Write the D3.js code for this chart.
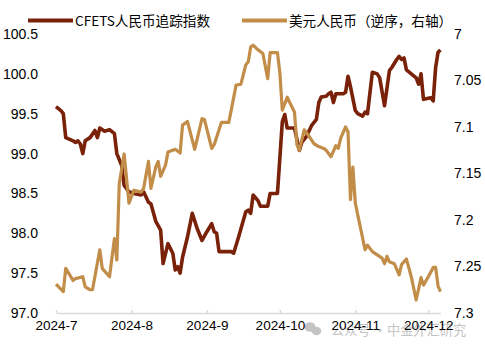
<!DOCTYPE html>
<html><head><meta charset="utf-8">
<script src="https://cdn.jsdelivr.net/npm/d3@7"></script>
<style>
html,body{margin:0;padding:0;background:#fff;}
svg{display:block;}
</style></head>
<body>
<svg id="c" width="485" height="349"></svg>
<script>
const cfetsDates = ["2024-07-01","2024-07-03","2024-07-04","2024-07-05","2024-07-08","2024-07-09","2024-07-10","2024-07-11","2024-07-12","2024-07-13","2024-07-15","2024-07-17","2024-07-18","2024-07-19","2024-07-21","2024-07-23","2024-07-25","2024-07-26","2024-07-28","2024-07-29","2024-07-31",
"2024-08-02","2024-08-05","2024-08-06","2024-08-08","2024-08-09","2024-08-11","2024-08-13","2024-08-14","2024-08-16","2024-08-18","2024-08-19","2024-08-20","2024-08-21","2024-08-22","2024-08-24","2024-08-26","2024-08-28","2024-08-30",
"2024-09-01","2024-09-03","2024-09-04","2024-09-05","2024-09-06","2024-09-11","2024-09-12","2024-09-14","2024-09-17","2024-09-18","2024-09-19","2024-09-20","2024-09-22","2024-09-23","2024-09-26","2024-09-27","2024-09-30",
"2024-10-02","2024-10-03","2024-10-04","2024-10-07","2024-10-09","2024-10-10","2024-10-12","2024-10-14","2024-10-16","2024-10-17","2024-10-18","2024-10-20","2024-10-21","2024-10-22","2024-10-23","2024-10-24","2024-10-27","2024-10-28","2024-10-29","2024-10-30",
"2024-11-01","2024-11-02","2024-11-04","2024-11-05","2024-11-06","2024-11-08","2024-11-10","2024-11-11","2024-11-13","2024-11-15","2024-11-16","2024-11-18","2024-11-19","2024-11-20","2024-11-21","2024-11-22","2024-11-24","2024-11-26","2024-11-27","2024-11-28","2024-11-29",
"2024-12-02","2024-12-03","2024-12-04","2024-12-05","2024-12-06"];
const cfetsValues = [99.59,99.54,99.50,99.20,99.16,99.14,99.16,99.12,99.00,99.16,99.20,99.29,99.20,99.32,99.28,99.30,99.25,99.00,98.85,98.60,98.52,
98.50,98.48,98.52,98.39,98.37,98.15,98.04,97.62,97.87,97.75,97.54,97.58,97.50,97.70,97.95,98.25,98.06,97.91,
98.02,98.12,98.02,98.00,97.77,97.77,97.75,97.95,98.27,98.29,98.25,98.48,98.41,98.34,98.34,98.50,98.50,
99.40,99.49,99.32,99.32,99.04,99.14,99.22,99.35,99.43,99.64,99.71,99.72,99.75,99.77,99.64,99.75,99.75,99.77,99.97,99.84,
99.54,99.50,99.47,99.52,99.50,100.02,100.00,99.95,99.60,100.04,100.08,100.18,100.22,100.18,100.20,100.05,100.00,99.95,99.87,100.00,99.68,
99.70,99.66,100.08,100.27,100.30];

const usdDates = ["2024-07-01","2024-07-04","2024-07-05","2024-07-08","2024-07-09","2024-07-12","2024-07-13","2024-07-15","2024-07-16","2024-07-19","2024-07-20","2024-07-23","2024-07-25","2024-07-26","2024-07-27","2024-07-29","2024-07-31",
"2024-08-02","2024-08-05","2024-08-06","2024-08-08","2024-08-09","2024-08-11","2024-08-12","2024-08-13","2024-08-15","2024-08-16","2024-08-19","2024-08-21","2024-08-22","2024-08-24","2024-08-27","2024-08-30","2024-08-31",
"2024-09-03","2024-09-04","2024-09-07","2024-09-10","2024-09-11","2024-09-13","2024-09-15","2024-09-17","2024-09-18","2024-09-19","2024-09-20","2024-09-22","2024-09-24","2024-09-26","2024-09-27","2024-09-30",
"2024-10-01","2024-10-02","2024-10-04","2024-10-07","2024-10-08","2024-10-09","2024-10-11","2024-10-13","2024-10-15","2024-10-17","2024-10-19","2024-10-20","2024-10-22","2024-10-24","2024-10-25","2024-10-26","2024-10-28","2024-10-29","2024-10-30","2024-10-31",
"2024-11-01","2024-11-05","2024-11-06","2024-11-08","2024-11-12","2024-11-13","2024-11-14","2024-11-15","2024-11-17","2024-11-19","2024-11-20","2024-11-22","2024-11-24","2024-11-26","2024-11-28","2024-11-29",
"2024-12-01","2024-12-03","2024-12-04","2024-12-05","2024-12-06"];
const usdValues = [7.269,7.277,7.252,7.265,7.263,7.261,7.272,7.275,7.275,7.232,7.252,7.261,7.220,7.243,7.161,7.129,7.182,
7.168,7.170,7.166,7.137,7.166,7.143,7.137,7.153,7.141,7.127,7.124,7.128,7.098,7.094,7.124,7.091,7.092,
7.123,7.119,7.095,7.095,7.082,7.055,7.054,7.033,7.030,7.014,7.012,7.017,7.021,7.048,7.020,7.020,
7.042,7.082,7.068,7.084,7.119,7.125,7.103,7.110,7.118,7.121,7.123,7.125,7.132,7.120,7.123,7.112,7.100,7.105,7.178,7.143,
7.182,7.232,7.227,7.234,7.241,7.247,7.239,7.245,7.247,7.259,7.248,7.242,7.261,7.286,7.262,7.270,
7.261,7.251,7.251,7.271,7.277];

const leftTicks = [97.0,97.5,98.0,98.5,99.0,99.5,100.0,100.5];
const rightTicks = [7,7.05,7.1,7.15,7.2,7.25,7.3];
const monthTicks = ["2024-07-01","2024-08-01","2024-09-01","2024-10-01","2024-11-01","2024-12-01"];
const monthLabels = ["2024-7","2024-8","2024-9","2024-10","2024-11","2024-12"];
const seriesNames = ["CFETS人民币追踪指数","美元人民币（逆序，右轴）"];

const parse = d3.timeParse("%Y-%m-%d");
const svg = d3.select("#c");
const latin = "'Liberation Sans', Arial, 'Noto Sans CJK SC', sans-serif";
const cjk = "'Noto Sans CJK SC', 'Liberation Sans', sans-serif";

const x = d3.scaleTime().domain([parse("2024-07-01"), parse("2024-12-06")]).range([56, 440.5]);
const yL = d3.scaleLinear().domain([97, 100.5]).range([313, 34]);
const yR = d3.scaleLinear().domain([7, 7.3]).range([34, 313]);

const darkC = "#7A2109", goldC = "#C18D48";

// watermark
const wm = svg.append("g").attr("fill", "#c4c4c4");
wm.append("ellipse").attr("cx", 310).attr("cy", 327).attr("rx", 5.5).attr("ry", 4.8);
wm.append("ellipse").attr("cx", 316.5).attr("cy", 331).attr("rx", 4.8).attr("ry", 4.2);
wm.append("text").attr("x", 331).attr("y", 335).attr("font-family", cjk).attr("font-size", 13.2).text("公众号 ·");
wm.append("text").attr("x", 387).attr("y", 335).attr("font-family", cjk).attr("font-size", 13.2).text("中金外汇研究");

// x axis
const xAxis = d3.axisBottom(x)
  .tickValues(monthTicks.map(parse))
  .tickFormat((d, i) => monthLabels[i])
  .tickSizeInner(-3).tickSizeOuter(0).tickPadding(9);
const gx = svg.append("g").attr("transform", "translate(0,313)").call(xAxis);
gx.select(".domain").attr("stroke", "#d9d9d9").attr("stroke-width", 1.5);
gx.selectAll(".tick line").attr("stroke", "#d9d9d9").attr("stroke-width", 1.5);
gx.selectAll(".tick text").attr("font-family", latin).attr("font-size", 13.5).attr("fill", "#000").attr("dy", 0).attr("y", 17);

// left axis
const yAxisL = d3.axisLeft(yL).tickValues(leftTicks).tickFormat(d3.format(".1f")).tickSize(0).tickPadding(0);
const gl = svg.append("g").attr("transform", "translate(38,0)").call(yAxisL);
gl.select(".domain").remove();
gl.selectAll(".tick text").attr("font-family", latin).attr("font-size", 14).attr("fill", "#000");

// right axis
const yAxisR = d3.axisRight(yR).tickValues(rightTicks).tickFormat(d => String(+d.toFixed(2))).tickSize(0).tickPadding(0);
const gr = svg.append("g").attr("transform", "translate(454,0)").call(yAxisR);
gr.select(".domain").remove();
gr.selectAll(".tick text").attr("font-family", latin).attr("font-size", 14).attr("fill", "#000");

// lines
const cfetsData = cfetsDates.map((d, i) => ({d: parse(d), v: cfetsValues[i]}));
const usdData = usdDates.map((d, i) => ({d: parse(d), v: usdValues[i]}));

svg.append("path").datum(cfetsData)
  .attr("fill", "none").attr("stroke", darkC).attr("stroke-width", 3.6)
  .attr("stroke-linejoin", "round").attr("stroke-linecap", "butt")
  .attr("d", d3.line().x(p => x(p.d)).y(p => yL(p.v)));
svg.append("path").datum(usdData)
  .attr("fill", "none").attr("stroke", goldC).attr("stroke-width", 3.2)
  .attr("stroke-linejoin", "round").attr("stroke-linecap", "butt")
  .attr("d", d3.line().x(p => x(p.d)).y(p => yR(p.v)));

// legend
const lg = svg.append("g");
const items = [{x1: 28, x2: 73, tx: 75, c: darkC}, {x1: 242, x2: 287, tx: 289, c: goldC}];
items.forEach((it, i) => {
  lg.append("line").attr("x1", it.x1).attr("x2", it.x2).attr("y1", 20.5).attr("y2", 20.5)
    .attr("stroke", it.c).attr("stroke-width", 4);
  lg.append("text").attr("x", it.tx).attr("y", 25.5).attr("font-family", cjk)
    .attr("font-size", 13.6).attr("fill", "#000").text(seriesNames[i]);
});
</script>
</body></html>
